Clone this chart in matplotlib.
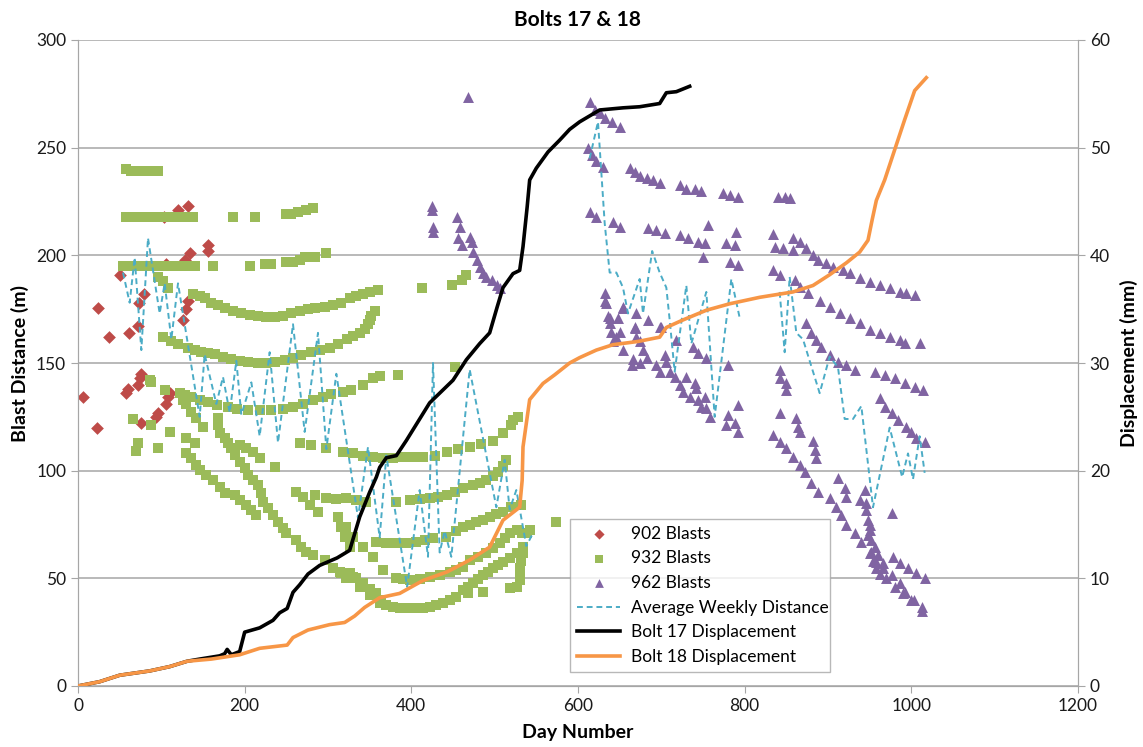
import numpy as np
import matplotlib
matplotlib.use("Agg")
import matplotlib.pyplot as plt

plt.rcParams['font.family'] = ['Lato', 'DejaVu Sans']

# ---- data (day number, blast distance m) ----
blasts_902 = [(6, 134), (23, 120), (24, 175.5), (37, 162), (50, 191), (58, 136), (60, 138),
              (61, 164), (72, 167), (72, 140), (73, 178), (74, 143), (75, 145), (76, 122),
              (79, 182), (94, 125), (96, 127), (103, 218), (106, 196), (106, 131), (108, 134),
              (110, 136), (120, 221), (126, 170), (128, 198), (130, 175), (132, 223), (132, 179),
              (134, 201), (156, 205), (156, 202)]

g932_top = [(57, 240), (63, 239), (70, 239), (76, 239), (83, 239), (90, 239), (96, 239),
            (57, 218), (64, 218), (70, 218), (78, 218), (84, 218), (90, 218), (102, 218),
            (110, 218), (120, 218), (126, 218), (132, 218), (138, 218), (186, 218), (212, 218),
            (250, 219), (256, 219), (264, 220), (274, 221), (282, 222),
            (54, 195), (60, 195), (66, 195), (72, 195), (78, 195), (84, 195), (90, 195),
            (96, 195), (102, 195), (108, 195), (114, 195), (120, 195), (126, 195), (132, 195),
            (140, 195), (162, 195), (206, 195), (224, 196), (232, 196), (250, 197), (258, 197),
            (266, 198), (272, 199), (284, 199), (298, 201)]
g932_upper = [(96, 190), (102, 188), (108, 185), (138, 182), (146, 181), (152, 180), (160, 178),
              (168, 177), (176, 175.5), (186, 174), (196, 173), (206, 172.5), (216, 172),
              (226, 171.5), (236, 171.5), (246, 172), (256, 173), (266, 174), (276, 175),
              (284, 175.5), (296, 176), (306, 177), (316, 178), (326, 180), (334, 181),
              (342, 182), (350, 183), (360, 184), (413, 185), (449, 186), (461, 188.5), (466, 191),
              (102, 162), (112, 160), (120, 159), (132, 157), (140, 156), (148, 155), (156, 154.5),
              (164, 154), (174, 153), (184, 152), (194, 151), (204, 150.5), (216, 150), (226, 150),
              (236, 150.5), (248, 151.5), (258, 152.5), (268, 153.5), (280, 155), (290, 156),
              (302, 157), (312, 159), (323, 161), (330, 162.5), (338, 164), (344, 166), (348, 168),
              (350, 170), (352, 172), (356, 174),
              (86, 142), (104, 137.5), (122, 136), (128, 135), (136, 134), (146, 133), (156, 132),
              (167, 130.5), (180, 129.5), (191, 128.7), (204, 128.2), (218, 128), (232, 128.3),
              (246, 128.7), (258, 129.5), (270, 131), (282, 133), (294, 134), (304, 135.5),
              (318, 136.5), (328, 137.5), (342, 140), (354, 143), (362, 144), (384, 144.5),
              (452, 148)]
g932_mid = [(266, 113), (280, 112), (298, 110.5), (318, 108.7), (330, 108), (342, 107), (354, 106.5),
            (366, 106), (378, 106), (390, 106.4), (402, 106.4), (414, 106.4), (428, 107),
            (443, 108.7), (456, 110), (470, 111), (484, 112.5), (498, 114), (510, 117.5),
            (520, 121), (522, 123.5), (528, 125),
            (262, 90), (270, 88), (284, 88.7), (298, 87.3), (310, 87), (322, 87.3), (334, 86.5),
            (346, 85.5), (382, 85.5), (398, 86.4), (410, 87), (422, 87.3), (432, 88), (443, 88.7),
            (452, 90), (462, 92), (474, 93.4), (482, 94.5), (490, 95.7), (498, 97.5), (504, 99.4),
            (510, 102), (514, 105),
            (358, 67), (370, 66.5), (382, 66.4), (394, 66.5), (406, 67), (416, 68), (426, 68.7),
            (442, 69.2), (454, 72), (462, 74), (470, 75), (478, 76), (486, 77), (494, 78.5),
            (502, 80), (510, 80.8), (520, 83), (532, 84), (542, 72.5), (574, 76)]
g932_low = [(326, 52.5), (334, 50), (342, 47.8), (350, 45), (358, 43), (364, 40), (370, 37.6),
            (378, 36.5), (386, 36), (396, 36), (406, 36), (414, 36.3), (422, 36.7), (430, 37.5),
            (438, 38.5), (446, 40), (454, 41.3), (462, 44.6), (468, 46), (474, 47.8), (480, 49.5),
            (486, 51.5), (492, 53), (498, 55), (504, 56.3), (510, 57.6), (518, 59.5), (527, 61.8),
            (534, 64.6), (533, 71),
            (382, 50), (390, 49.5), (398, 49), (410, 49.5), (422, 50.6), (434, 51.5), (446, 53),
            (454, 54), (462, 55.3), (470, 58.5), (480, 60), (490, 61.8), (498, 64), (506, 66.4),
            (512, 68.5), (518, 71), (527, 72.5), (539, 71),
            (534, 61.8), (532, 58), (530, 55), (530, 52), (530, 49), (527, 46), (518, 45.5),
            (486, 43.7), (468, 43)]
g932_branches = [(126, 133), (130, 131), (136, 127.4), (142, 124.3), (150, 120.4),
                 (168, 124.3), (168, 121.2), (170, 117.4), (176, 115), (180, 112.7), (184, 110.4),
                 (188, 107.3), (194, 104.2), (200, 101.1), (204, 98), (210, 95.7), (216, 93.4),
                 (220, 89.5), (222, 85.6), (228, 82.5), (234, 79.4), (240, 76.3), (246, 73.2),
                 (250, 70.9), (262, 67.8), (268, 64.7), (274, 62.4), (282, 60.8), (296, 58.5),
                 (306, 54.7), (316, 52.3), (322, 50),
                 (194, 112), (202, 110.4), (210, 108.8), (218, 105.8), (236, 101.9),
                 (130, 115), (140, 112.7), (130, 108), (136, 105.8), (142, 102.6), (146, 100.3),
                 (154, 98), (162, 95.7), (170, 92.6), (176, 89.5), (188, 88.7), (194, 86.4),
                 (202, 84.1), (208, 81.7), (214, 79.4),
                 (278, 84.1), (288, 81), (312, 78.6), (316, 74), (320, 69.3), (326, 64.7),
                 (322, 74), (330, 69.3), (342, 64.7), (354, 60), (366, 53.9), (314, 53.1),
                 (330, 50.8), (338, 46.1), (350, 42.3), (362, 38.4),
                 (66, 124), (70, 109), (72, 113), (88, 121), (88, 141), (96, 110.4), (110, 118.1)]

blasts_962 = [(425, 223), (425, 221), (426, 213), (426, 211), (455, 218), (458, 213), (456, 208),
              (461, 205), (470, 208.5), (473, 206), (474, 201.6), (479, 198), (482, 194.6),
              (486, 192), (490, 190), (497, 188.6), (503, 186), (506, 185), (468, 273.6),
              (614, 271), (620, 267.5), (626, 266), (632, 264), (641, 262), (650, 259.6),
              (612, 250), (617, 246.6), (622, 244), (630, 241),
              (662, 240.6), (668, 238.7), (674, 237), (683, 236), (690, 235), (698, 233.6),
              (722, 232.7), (730, 231), (740, 231), (748, 230), (774, 229), (782, 228),
              (792, 227), (840, 227), (848, 227), (854, 226.6),
              (614, 220), (622, 218), (642, 215.5), (650, 213), (684, 212.7), (694, 211.8),
              (704, 210.4), (722, 209.5), (732, 208), (744, 206), (752, 205.8), (756, 214),
              (778, 205.8), (788, 204.8), (790, 211), (750, 199), (782, 197), (792, 195.5),
              (834, 210), (836, 204), (846, 203.4), (858, 202.5), (858, 208), (866, 206),
              (874, 203.4), (882, 200), (888, 198), (898, 196.5), (906, 194.6), (918, 193),
              (926, 191.8), (938, 189.5), (950, 187.6), (962, 186), (974, 184.8), (986, 183),
              (994, 182.5), (1004, 181.6),
              (834, 193), (842, 191), (860, 188.6), (866, 185.3), (876, 182.5), (890, 179),
              (902, 176), (914, 173), (926, 171), (938, 168.6), (950, 165.4), (962, 164),
              (974, 162), (986, 160.7), (992, 159.3), (1010, 159.3),
              (874, 168.6), (880, 164), (886, 160.7), (892, 157.5), (902, 153.7), (912, 150.5),
              (922, 149), (932, 146.8), (956, 145.8), (968, 144.5), (980, 143), (992, 140.7),
              (1004, 139), (1014, 137.5),
              (962, 133.8), (968, 129.6), (977, 126.8), (984, 123.5), (994, 120.3), (1000, 118),
              (1006, 115), (1016, 113.3),
              (842, 146.8), (842, 143), (850, 140.7), (850, 137.5), (842, 126.8), (862, 124.5),
              (864, 120.3), (866, 118), (882, 114), (884, 109.6), (886, 106),
              (834, 116.6), (842, 113.3), (850, 110.5), (858, 106.4), (866, 102.6), (872, 99.4),
              (880, 94.3), (888, 90), (902, 87.3), (910, 83), (916, 79.4), (922, 74.8), (932, 71),
              (940, 67), (950, 61.8), (958, 57.6), (966, 54.8), (977, 51.5), (986, 47.8),
              (992, 43.7), (1000, 40), (1013, 36.7),
              (912, 96.6), (920, 92), (922, 87.8), (938, 86.4), (944, 91), (946, 81.7), (948, 77),
              (950, 72.5), (952, 67.8), (956, 64.6), (960, 60.8), (966, 57), (978, 60), (986, 57),
              (996, 54.8), (1006, 52.5), (1016, 50), (977, 80.3),
              (946, 85), (948, 70), (950, 75), (952, 62), (954, 58), (958, 55), (962, 52),
              (970, 50), (980, 46), (990, 43), (1003, 40), (1013, 35),
              (632, 182.5), (632, 179), (638, 171), (648, 171), (654, 175.6), (670, 173),
              (684, 170), (668, 166.7), (700, 166.7),
              (634, 178), (636, 172), (638, 168.6), (640, 164.4), (646, 162), (650, 164.4),
              (654, 176), (698, 166.7), (642, 160), (654, 156), (668, 166.3), (670, 162),
              (674, 160), (678, 156), (666, 152), (683, 152.4), (694, 149), (704, 153.7),
              (706, 150.5), (698, 146), (710, 146), (718, 160.7), (716, 143.5), (722, 139.8),
              (730, 143.5), (740, 140.7), (738, 157.5), (744, 154.7), (754, 152.4), (726, 136.6),
              (734, 134.2), (742, 138.4), (744, 132.8), (748, 129.6), (752, 134.2), (754, 129),
              (758, 125), (780, 149), (780, 125.9), (792, 130.5), (778, 121), (788, 122),
              (792, 118), (665, 149), (674, 150)]

avg_weekly = [(54, 192), (62, 178), (68, 199), (76, 156), (84, 208), (98, 173), (104, 187),
              (112, 161), (120, 187), (146, 125), (152, 154), (166, 131), (174, 143.5), (182, 127),
              (190, 151), (196, 126), (208, 141), (218, 116), (230, 155), (240, 113), (258, 168),
              (272, 118), (288, 164), (298, 110), (310, 145), (336, 78), (348, 111), (362, 69),
              (370, 107), (395, 46), (410, 91), (420, 60), (426, 150), (434, 62), (440, 72),
              (448, 60), (470, 147), (502, 83), (512, 105), (518, 82), (526, 91), (538, 65),
              (546, 71), (None, None),
              (614, 245), (624, 262), (632, 215), (638, 192), (646, 192), (654, 185), (660, 173),
              (674, 189), (678, 173), (689, 202), (698, 192), (706, 185), (710, 170), (716, 146),
              (730, 186), (736, 159), (754, 183), (764, 125), (784, 189), (794, 171), (None, None),
              (842, 183), (848, 155), (854, 190), (862, 164), (870, 161), (890, 136), (902, 153),
              (912, 148), (920, 124), (930, 124), (940, 130), (954, 83), (974, 120), (989, 97),
              (996, 108), (1002, 96), (1010, 116), (1016, 99)]

# bolt displacement (day, mm)
bolt17 = [(0, 0), (26, 0.4), (50, 1.0), (86, 1.4), (110, 1.8), (131, 2.3), (146, 2.5), (170, 2.8),
          (176, 3.0), (179, 3.4), (184, 2.9), (194, 3.2), (200, 5.0), (218, 5.4), (234, 6.1),
          (242, 6.8), (251, 7.2), (258, 8.7), (266, 9.4), (276, 10.4), (290, 11.2), (311, 11.9),
          (326, 12.6), (338, 15.7), (350, 18.0), (358, 19.4), (362, 20.3), (370, 21.2),
          (382, 21.4), (394, 22.8), (406, 24.3), (422, 26.3), (438, 27.5), (450, 28.4),
          (466, 30.3), (482, 31.8), (494, 32.8), (503, 35.2), (510, 37.0), (522, 38.3),
          (530, 38.6), (534, 40.8), (539, 44.5), (542, 47.0), (550, 48.1), (564, 49.6),
          (578, 50.7), (590, 51.7), (602, 52.4), (626, 53.5), (654, 53.7), (674, 53.8),
          (698, 54.1), (706, 55.1), (718, 55.2), (734, 55.7)]
bolt18 = [(0, 0), (26, 0.4), (50, 1.0), (86, 1.4), (110, 1.8), (131, 2.3), (160, 2.5), (194, 2.9),
          (218, 3.5), (251, 3.8), (258, 4.5), (276, 5.2), (302, 5.7), (320, 5.9), (332, 6.5),
          (344, 7.3), (362, 8.2), (386, 8.6), (414, 9.8), (443, 10.6), (470, 11.7), (494, 12.9),
          (510, 15.4), (530, 16.6), (533, 19.1), (534, 22.2), (542, 26.6), (558, 28.1),
          (572, 28.9), (590, 30.0), (602, 30.5), (622, 31.2), (642, 31.7), (672, 32.0),
          (698, 32.4), (706, 33.3), (726, 34.0), (754, 34.9), (782, 35.5), (818, 36.1),
          (858, 36.6), (882, 37.2), (902, 38.2), (922, 39.3), (938, 40.3), (948, 41.4),
          (953, 43.3), (958, 45.1), (968, 47.0), (980, 49.8), (992, 52.6), (1004, 55.3),
          (1018, 56.5)]

blasts_932 = g932_top + g932_upper + g932_mid + g932_low + g932_branches


def xy(pts):
    a = np.array([(np.nan if p[0] is None else p[0], np.nan if p[1] is None else p[1]) for p in pts], float)
    return a[:, 0], a[:, 1]


fig = plt.figure(figsize=(11.43, 7.47), dpi=100)
ax = fig.add_axes([78 / 1143, 1 - 686 / 747, 1000 / 1143, 646 / 747])
ax2 = ax.twinx()

grey = '#a6a6a6'
x, y = xy(blasts_902)
h1 = ax.scatter(x, y, marker='D', s=42, color='#be4b48', lw=0, zorder=3, label='902 Blasts')
x, y = xy(blasts_932)
h2 = ax.scatter(x, y, marker='s', s=50, color='#9bbb59', lw=0, zorder=3, label='932 Blasts')
x, y = xy(blasts_962)
h3 = ax.scatter(x, y, marker='^', s=62, color='#8064a2', lw=0, zorder=3, label='962 Blasts')
x, y = xy(avg_weekly)
h4, = ax.plot(x, y, color='#4bacc6', lw=1.4, ls=(0, (3, 2)), zorder=4,
              solid_joinstyle='round', dash_joinstyle='round', label='Average Weekly Distance')

x, y = xy(bolt17)
h5, = ax2.plot(x, y, color='black', lw=2.6, zorder=5, solid_joinstyle='round', label='Bolt 17 Displacement')
x, y = xy(bolt18)
h6, = ax2.plot(x, y, color='#f79646', lw=2.6, zorder=5, solid_joinstyle='round', label='Bolt 18 Displacement')

ax.set_xlim(0, 1200)
ax.set_ylim(0, 300)
ax2.set_ylim(0, 60)
ax.set_xticks(range(0, 1201, 200))
ax.set_yticks(range(0, 301, 50))
ax2.set_yticks(range(0, 61, 10))
ax.yaxis.grid(True, color=grey, lw=1.1)
ax.set_axisbelow(True)

for a in (ax, ax2):
    a.spines['top'].set_visible(False)
    for side in ('left', 'right', 'bottom'):
        a.spines[side].set_color(grey)
    a.tick_params(colors=grey, labelcolor='#1a1a1a', labelsize=12.5, length=5)

ax.set_xlabel('Day Number', fontsize=14, fontweight='bold', labelpad=7)
ax.set_ylabel('Blast Distance (m)', fontsize=14, fontweight='bold', labelpad=5)
ax2.set_ylabel('Displacement (mm)', fontsize=14, fontweight='bold', labelpad=7)
ax.set_title('Bolts 17 & 18', fontsize=15, fontweight='bold', pad=10)

leg = ax2.legend(handles=[h1, h2, h3, h4, h5, h6], loc='lower left',
                 bbox_to_anchor=(0.492, 0.0217, 0.26, 0.243), mode='expand', borderaxespad=0,
                 fontsize=12.5, frameon=True, fancybox=False, edgecolor=grey,
                 handlelength=2.5, handletextpad=0.6, borderpad=0.4, labelspacing=0.5,
                 scatterpoints=1, markerscale=0.8)
leg.get_frame().set_linewidth(1.0)
leg.set_zorder(10)

fig.savefig('out.png', dpi=100)
